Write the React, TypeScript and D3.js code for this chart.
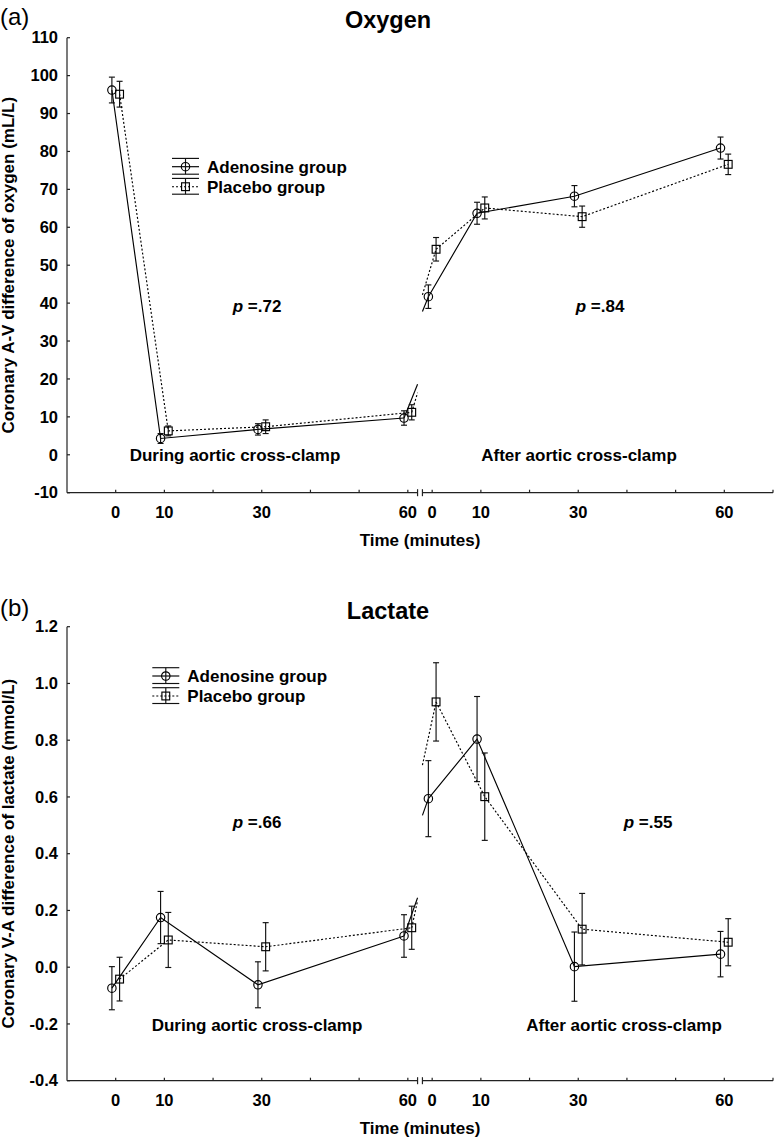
import React from "react";
import * as d3 from "d3";

// ---------- data ----------
const timePoints = [0, 10, 30, 60];
const xTicksDuring = [0, 10, 20, 30, 40, 50, 60];
const xTicksAfter = [0, 10, 20, 30, 40, 50, 60, 70];
const xTickLabels = [0, 10, 30, 60];

// Oxygen (mL/L)
const oxyAdenosineDuring = [96.2, 4.3, 6.7, 9.7];
const oxyAdenosineDuringSE = [3.4, 1.3, 1.5, 1.9];
const oxyAdenosineAfter = [41.7, 63.7, 68.2, 80.9];
const oxyAdenosineAfterSE = [3.1, 2.9, 2.8, 2.9];
const oxyPlaceboDuring = [95.1, 6.3, 7.4, 11.2];
const oxyPlaceboDuringSE = [3.4, 1.3, 1.8, 2.0];
const oxyPlaceboAfter = [54.2, 65.1, 62.8, 76.6];
const oxyPlaceboAfterSE = [3.1, 2.9, 2.8, 2.7];
const oxyYTicks = [110, 100, 90, 80, 70, 60, 50, 40, 30, 20, 10, 0, -10];

// Lactate (mmol/L)
const lacAdenosineDuring = [-0.074, 0.175, -0.062, 0.11];
const lacAdenosineDuringSE = [0.076, 0.092, 0.081, 0.075];
const lacAdenosineAfter = [0.594, 0.804, 0.002, 0.046];
const lacAdenosineAfterSE = [0.134, 0.15, 0.122, 0.08];
const lacPlaceboDuring = [-0.042, 0.096, 0.072, 0.139];
const lacPlaceboDuringSE = [0.077, 0.097, 0.085, 0.076];
const lacPlaceboAfter = [0.935, 0.601, 0.134, 0.088];
const lacPlaceboAfterSE = [0.138, 0.154, 0.126, 0.083];
const lacYTicks = [1.2, 1.0, 0.8, 0.6, 0.4, 0.2, 0.0, -0.2, -0.4];

const legendLabels = ["Adenosine group", "Placebo group"];

// ---------- layout ----------
const W = 776;
const H = 1139;
const AFTER_SHIFT = 65; // virtual minutes separating the two segments
const BREAK_L = 62;
const BREAK_R = 63;
const xScale = d3.scaleLinear().domain([-10, 135]).range([67, 773]);
const FONT = "'Liberation Sans', Arial, Helvetica, sans-serif";
const SW = 1.15;

type Series = {
  during: number[];
  duringSE: number[];
  after: number[];
  afterSE: number[];
  marker: "circle" | "square";
  dash?: string;
  dx: number;
};

function Marker({ type, x, y }: { type: string; x: number; y: number }) {
  if (type === "circle")
    return <circle cx={x} cy={y} r={4.2} fill="none" stroke="#000" strokeWidth={SW} />;
  return <rect x={x - 3.9} y={y - 3.9} width={7.8} height={7.8} fill="none" stroke="#000" strokeWidth={SW} />;
}

function ErrorBar({ x, yLo, yHi }: { x: number; yLo: number; yHi: number }) {
  return (
    <g stroke="#111" strokeWidth={SW}>
      <line x1={x} x2={x} y1={yLo} y2={yHi} />
      <line x1={x - 3} x2={x + 3} y1={yLo} y2={yLo} />
      <line x1={x - 3} x2={x + 3} y1={yHi} y2={yHi} />
    </g>
  );
}

type Note = { x: number; y: number; text: string };

type PanelProps = {
  yTop: number;
  yBottom: number;
  yTicks: number[];
  fmt: (v: number) => string;
  series: Series[];
  tag: string;
  title: string;
  titleY: number;
  yLabel: string;
  legendX: number;
  legendY: number;
  pLeft: Note;
  pRight: Note;
  duringPos: { x: number; y: number };
  afterPos: { x: number; y: number };
};

function Panel(p: PanelProps) {
  const yMax = d3.max(p.yTicks) as number;
  const yMin = d3.min(p.yTicks) as number;
  const y = d3.scaleLinear().domain([yMin, yMax]).range([p.yBottom, p.yTop]);
  const axisY = p.yBottom;
  const xLeft = xScale(-10);
  const xBL = xScale(BREAK_L);
  const xBR = xScale(BREAK_R);
  const xRight = xScale(135);
  const D = xScale(10) - xScale(0);
  const line = d3
    .line<[number, number]>()
    .x((d) => d[0])
    .y((d) => d[1]);

  return (
    <g fontFamily={FONT}>
      {/* panel tag and title */}
      <text x={0} y={p.titleY - 3} fontSize={24}>
        {p.tag}
      </text>
      <text x={388} y={p.titleY} fontSize={23.5} fontWeight="bold" textAnchor="middle">
        {p.title}
      </text>

      {/* y axis */}
      <line x1={xLeft} x2={xLeft} y1={y(yMax)} y2={y(yMin)} stroke="#222" strokeWidth={1.2} />
      {p.yTicks.map((t) => (
        <g key={"yt" + t}>
          <line x1={xLeft} x2={xLeft + 3} y1={y(t)} y2={y(t)} stroke="#222" strokeWidth={1.2} />
          <text x={58} y={y(t)} dy="0.35em" fontSize={16.5} fontWeight="bold" textAnchor="end">
            {p.fmt(t)}
          </text>
        </g>
      ))}
      <text
        transform={`translate(14,${(p.yTop + p.yBottom) / 2}) rotate(-90)`}
        fontSize={17}
        fontWeight="bold"
        textAnchor="middle"
      >
        {p.yLabel}
      </text>

      {/* x axis (broken) */}
      <g stroke="#222" strokeWidth={1.2}>
        <line x1={xLeft} x2={xBL} y1={axisY} y2={axisY} />
        <line x1={xBR} x2={xRight} y1={axisY} y2={axisY} />
        <line x1={xBL} x2={xBL} y1={axisY - 3.5} y2={axisY + 3.5} />
        <line x1={xBR} x2={xBR} y1={axisY - 3.5} y2={axisY + 3.5} />
        {xTicksDuring.map((t) => (
          <line key={"xd" + t} x1={xScale(t)} x2={xScale(t)} y1={axisY} y2={axisY - 3} />
        ))}
        {xTicksAfter.map((t) => (
          <line key={"xa" + t} x1={xScale(t + AFTER_SHIFT)} x2={xScale(t + AFTER_SHIFT)} y1={axisY} y2={axisY - 3} />
        ))}
      </g>
      {xTickLabels.map((t) => (
        <g key={"xl" + t} fontSize={16.5} fontWeight="bold" textAnchor="middle">
          <text x={xScale(t)} y={axisY + 25}>
            {t}
          </text>
          <text x={xScale(t + AFTER_SHIFT)} y={axisY + 25}>
            {t}
          </text>
        </g>
      ))}
      <text x={420} y={axisY + 53} fontSize={17} fontWeight="bold" textAnchor="middle">
        Time (minutes)
      </text>

      {/* series */}
      {p.series.map((s, si) => {
        const dPts: [number, number][] = timePoints.map((t, i) => [xScale(t) + s.dx, y(s.during[i])]);
        const aPts: [number, number][] = timePoints.map((t, i) => [xScale(t + AFTER_SHIFT) + s.dx, y(s.after[i])]);
        const [xL, yL] = dPts[dPts.length - 1];
        const [xR, yR] = aPts[0];
        const slope = (yR - yL) / D;
        const leftStub: [number, number][] = [
          [xL, yL],
          [xBL, yL + slope * (xBL - xL)],
        ];
        const rightStub: [number, number][] = [
          [xBR, yR - slope * (xR - xBR)],
          [xR, yR],
        ];
        const common = { fill: "none", stroke: "#000", strokeWidth: SW, strokeDasharray: s.dash };
        return (
          <g key={"s" + si}>
            <path d={line(dPts) || ""} {...common} />
            <path d={line(aPts) || ""} {...common} />
            <path d={line(leftStub) || ""} {...common} />
            <path d={line(rightStub) || ""} {...common} />
            {timePoints.map((t, i) => (
              <g key={"d" + i}>
                <ErrorBar x={dPts[i][0]} yLo={y(s.during[i] - s.duringSE[i])} yHi={y(s.during[i] + s.duringSE[i])} />
                <Marker type={s.marker} x={dPts[i][0]} y={dPts[i][1]} />
                <ErrorBar x={aPts[i][0]} yLo={y(s.after[i] - s.afterSE[i])} yHi={y(s.after[i] + s.afterSE[i])} />
                <Marker type={s.marker} x={aPts[i][0]} y={aPts[i][1]} />
              </g>
            ))}
          </g>
        );
      })}

      {/* legend */}
      {p.series.map((s, si) => {
        const cy = p.legendY + si * 20;
        const x0 = p.legendX;
        const x1 = p.legendX + 27;
        const cx = (x0 + x1) / 2;
        return (
          <g key={"lg" + si}>
            <line x1={x0} x2={x1} y1={cy} y2={cy} stroke="#000" strokeWidth={SW} strokeDasharray={s.dash} />
            <g stroke="#111" strokeWidth={SW}>
              <line x1={cx} x2={cx} y1={cy - 8.3} y2={cy + 7.5} />
              <line x1={x0} x2={x1} y1={cy - 8.3} y2={cy - 8.3} />
              <line x1={x0} x2={x1} y1={cy + 7.5} y2={cy + 7.5} />
            </g>
            <Marker type={s.marker} x={cx} y={cy} />
            <text x={x1 + 8} y={cy} dy="0.35em" fontSize={17} fontWeight="bold">
              {legendLabels[si]}
            </text>
          </g>
        );
      })}

      {/* annotations */}
      {[p.pLeft, p.pRight].map((a, i) => (
        <text key={"p" + i} x={a.x} y={a.y} fontSize={17} fontWeight="bold" textAnchor="middle">
          <tspan fontStyle="italic">p</tspan>
          {" " + a.text}
        </text>
      ))}
      <text x={p.duringPos.x} y={p.duringPos.y} fontSize={17} fontWeight="bold" textAnchor="middle">
        During aortic cross-clamp
      </text>
      <text x={p.afterPos.x} y={p.afterPos.y} fontSize={17} fontWeight="bold" textAnchor="middle">
        After aortic cross-clamp
      </text>
    </g>
  );
}

const adenosineStyle = { marker: "circle" as const, dash: undefined, dx: -3.8 };
const placeboStyle = { marker: "square" as const, dash: "2,2", dx: 3.9 };

export default function App() {
  const oxySeries: Series[] = [
    { during: oxyAdenosineDuring, duringSE: oxyAdenosineDuringSE, after: oxyAdenosineAfter, afterSE: oxyAdenosineAfterSE, ...adenosineStyle },
    { during: oxyPlaceboDuring, duringSE: oxyPlaceboDuringSE, after: oxyPlaceboAfter, afterSE: oxyPlaceboAfterSE, ...placeboStyle },
  ];
  const lacSeries: Series[] = [
    { during: lacAdenosineDuring, duringSE: lacAdenosineDuringSE, after: lacAdenosineAfter, afterSE: lacAdenosineAfterSE, ...adenosineStyle },
    { during: lacPlaceboDuring, duringSE: lacPlaceboDuringSE, after: lacPlaceboAfter, afterSE: lacPlaceboAfterSE, ...placeboStyle },
  ];
  return (
    <svg
      width={W}
      height={H}
      viewBox={`0 0 ${W} ${H}`}
      style={{ position: "absolute", left: 0, top: 0, background: "#fff" }}
    >
      <rect x={0} y={0} width={W} height={H} fill="#fff" />
      <Panel
        yTop={37.7}
        yBottom={492.7}
        yTicks={oxyYTicks}
        fmt={(v) => String(v)}
        series={oxySeries}
        tag="(a)"
        title="Oxygen"
        titleY={28}
        yLabel="Coronary A-V difference of oxygen (mL/L)"
        legendX={172}
        legendY={166.7}
        pLeft={{ x: 257, y: 312, text: "=.72" }}
        pRight={{ x: 600, y: 312, text: "=.84" }}
        duringPos={{ x: 235, y: 461 }}
        afterPos={{ x: 579, y: 461 }}
      />
      <Panel
        yTop={626.7}
        yBottom={1080.7}
        yTicks={lacYTicks}
        fmt={(v) => v.toFixed(1)}
        series={lacSeries}
        tag="(b)"
        title="Lactate"
        titleY={619}
        yLabel="Coronary V-A difference of lactate (mmol/L)"
        legendX={152.3}
        legendY={676}
        pLeft={{ x: 257, y: 828, text: "=.66" }}
        pRight={{ x: 648, y: 828, text: "=.55" }}
        duringPos={{ x: 257, y: 1031 }}
        afterPos={{ x: 624, y: 1031 }}
      />
    </svg>
  );
}
